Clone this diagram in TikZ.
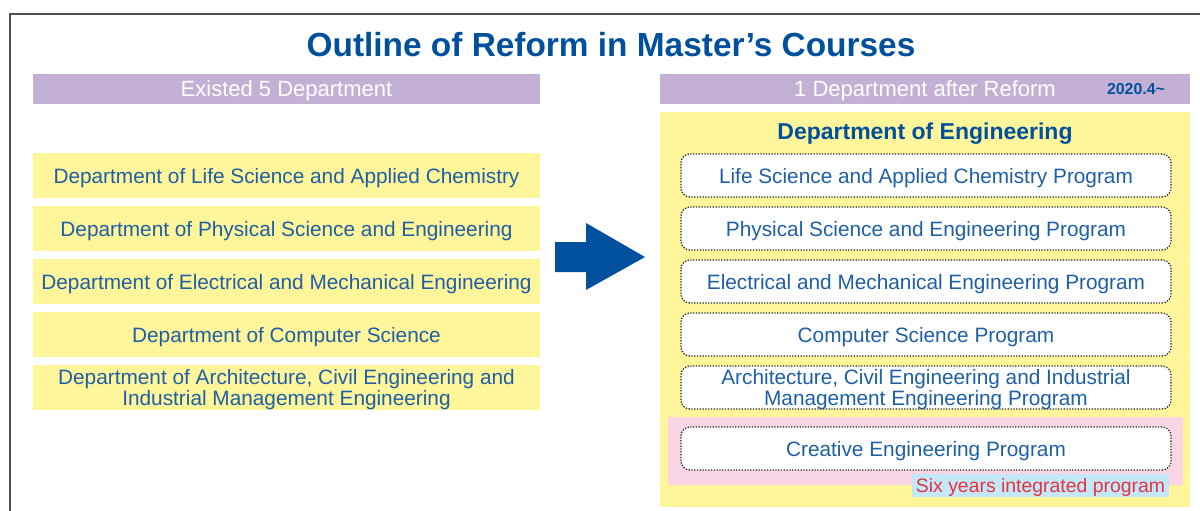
\documentclass[tikz,border=0pt]{standalone}
\usepackage{fontspec}
\setmainfont{Liberation Sans}

\definecolor{titleblue}{RGB}{0,80,158}
\definecolor{textblue}{RGB}{30,95,165}
\definecolor{barpurple}{RGB}{197,176,213}
\definecolor{paleyellow}{RGB}{255,245,155}
\definecolor{palepink}{RGB}{249,213,229}
\definecolor{paleblue}{RGB}{197,232,248}
\definecolor{labelred}{RGB}{230,51,63}
\definecolor{framegray}{RGB}{80,80,80}

\newcommand{\deptfont}{\fontsize{20.8}{21}\selectfont}

\tikzset{
  headbar/.style={fill=barpurple, minimum height=30pt, inner sep=0pt,
    text depth=0pt, text=white, font=\fontsize{22}{22}\selectfont},
  oldbox/.style={fill=paleyellow, minimum width=507pt, minimum height=45pt,
    inner sep=0pt, text depth=0pt, text=textblue, align=center, font=\deptfont},
  progbox/.style={fill=white, draw=black!85, line width=1.3pt,
    dash pattern=on 1.3pt off 1.5pt, rounded corners=9pt,
    minimum width=490pt, minimum height=43pt, inner sep=0pt, text depth=0pt,
    text=textblue, align=center, font=\fontsize{20.8}{18}\selectfont},
}

\begin{document}
\begin{tikzpicture}[x=1pt,y=-1pt]
\useasboundingbox (0,0) rectangle (1200,511);
\draw[framegray, line width=2pt] (1200,14) -- (10,14) -- (10,511);

\node[text=titleblue, font=\bfseries\fontsize{33.4}{34}\selectfont] (title) at (611,45)
  {Outline of Reform in Master’s Courses};

% before the reform
\node[headbar, minimum width=507pt] (oldhead) at (286.5,89) {Existed 5 Department};
\foreach \i/\t in {1/{Department of Life Science and Applied Chemistry},
  2/{Department of Physical Science and Engineering},
  3/{Department of Electrical and Mechanical Engineering},
  4/{Department of Computer Science},
  5/{Department of Architecture, Civil Engineering and\\Industrial Management Engineering}}{
\node[oldbox] (old\i) at (286.5,{175.5+53*(\i-1)}) {\t};
}

\fill[titleblue] (555,242) -- (586,242) -- (586,223) -- (645,257) -- (586,290)
  -- (586,272) -- (555,272) -- cycle;

% after the reform
\node[headbar, minimum width=530pt] (newhead) at (925,89) {1 Department after Reform};
\node[text=titleblue, font=\bfseries\fontsize{15.9}{16}\selectfont] (date) at (1136,89)
  {2020.4\textasciitilde};
\fill[paleyellow] (660,112) rectangle (1190,507);
\node[text=titleblue, text depth=0pt, font=\bfseries\fontsize{23}{23}\selectfont] (eng)
  at (925,131) {Department of Engineering};
\foreach \i/\t in {1/{Life Science and Applied Chemistry Program},
  2/{Physical Science and Engineering Program},
  3/{Electrical and Mechanical Engineering Program},
  4/{Computer Science Program},
  5/{Architecture, Civil Engineering and Industrial\\Management Engineering Program}}{
\node[progbox] (prog\i) at (926,{175.5+53*(\i-1)}) {\t};
}
\fill[palepink] (668,417) rectangle (1183,485);
\node[progbox] (creative) at (926,448.5) {Creative Engineering Program};
\node[fill=paleblue, text=labelred, font=\fontsize{19.4}{20}\selectfont, inner sep=0pt,
  text depth=0pt, minimum width=257pt, minimum height=23pt] (sixyr) at (1040.5,485.5)
  {Six years integrated program};
\end{tikzpicture}
\end{document}
